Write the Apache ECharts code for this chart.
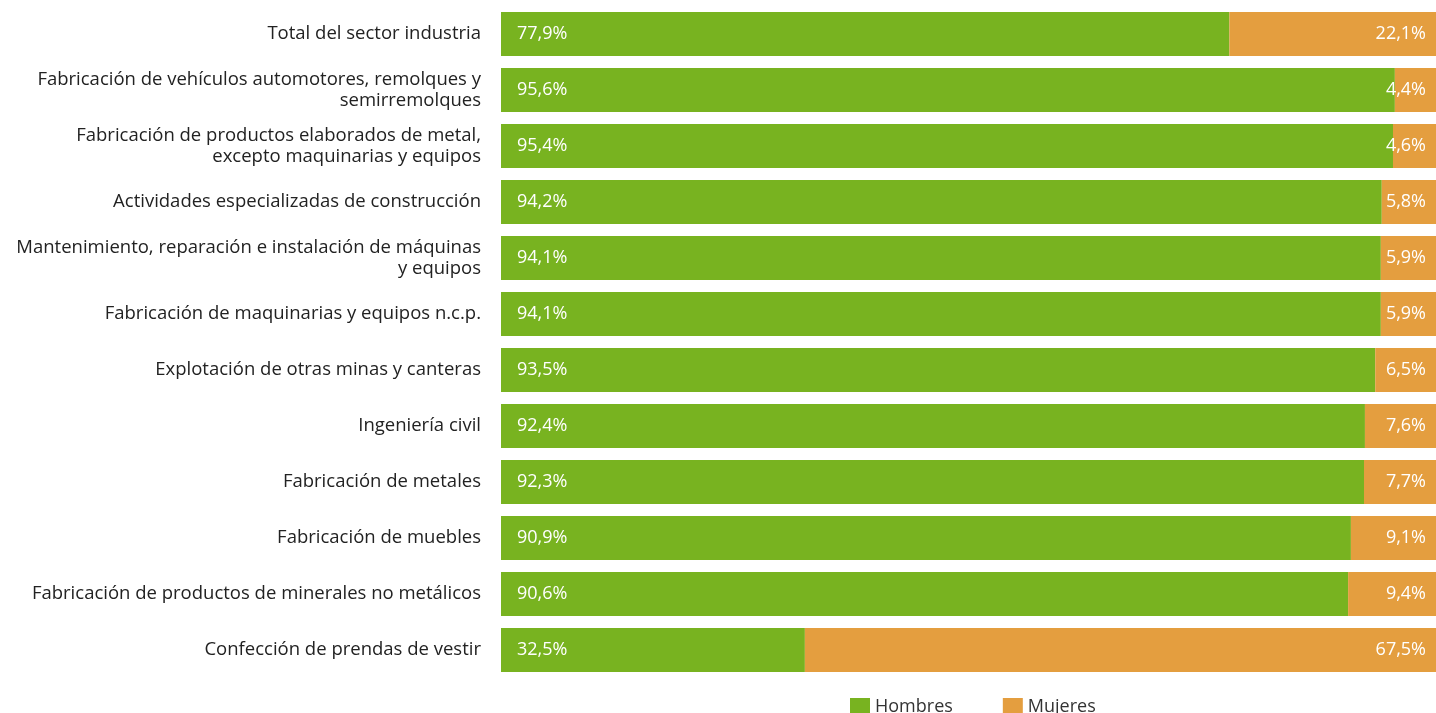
<!DOCTYPE html>
<html><head><meta charset="utf-8">
<script src="https://cdn.jsdelivr.net/npm/echarts@6/dist/echarts.min.js"></script>
<style>html,body{margin:0;padding:0;background:#fff}#c{width:1436px;height:713px}</style>
</head><body><div id="c"></div>
<script>
const categories = [
  "Total del sector industria",
  "Fabricación de vehículos automotores, remolques y\nsemirremolques",
  "Fabricación de productos elaborados de metal,\nexcepto maquinarias y equipos",
  "Actividades especializadas de construcción",
  "Mantenimiento, reparación e instalación de máquinas\ny equipos",
  "Fabricación de maquinarias y equipos n.c.p.",
  "Explotación de otras minas y canteras",
  "Ingeniería civil",
  "Fabricación de metales",
  "Fabricación de muebles",
  "Fabricación de productos de minerales no metálicos",
  "Confección de prendas de vestir"
];
const hombres = [77.9, 95.6, 95.4, 94.2, 94.1, 94.1, 93.5, 92.4, 92.3, 90.9, 90.6, 32.5];
const mujeres = [22.1, 4.4, 4.6, 5.8, 5.9, 5.9, 6.5, 7.6, 7.7, 9.1, 9.4, 67.5];
const seriesNames = ["Hombres", "Mujeres"];

const fmt = p => p.value.toFixed(1).replace('.', ',') + '%';
const font = "'Open Sans', 'Noto Sans', sans-serif";
const chart = echarts.init(document.getElementById('c'));
chart.setOption({
  animation: false,
  textStyle: { fontFamily: font },
  grid: { left: 501, right: 0, top: 6, bottom: 35, containLabel: false },
  legend: {
    data: seriesNames, top: 693, left: 845, itemWidth: 20, itemHeight: 18, itemGap: 50,
    textStyle: { fontSize: 18, color: '#333', fontFamily: font }, icon: 'rect'
  },
  xAxis: { type: 'value', min: 0, max: 100, show: false },
  yAxis: {
    type: 'category', data: categories, inverse: true,
    axisLine: { show: false }, axisTick: { show: false },
    axisLabel: { fontSize: 18.5, color: '#222', margin: 20, align: 'right', lineHeight: 21, fontFamily: font }
  },
  series: [
    { name: seriesNames[0], type: 'bar', stack: 't', data: hombres, barWidth: 44,
      itemStyle: { color: '#78B320' },
      label: { show: true, position: 'insideLeft', distance: 16, color: '#fff', fontSize: 18, formatter: fmt, fontFamily: font } },
    { name: seriesNames[1], type: 'bar', stack: 't', data: mujeres, barWidth: 44,
      itemStyle: { color: '#E49E3F' },
      label: { show: true, position: 'insideRight', distance: 10, color: '#fff', fontSize: 18, formatter: fmt, fontFamily: font } }
  ]
});
</script></body></html>
